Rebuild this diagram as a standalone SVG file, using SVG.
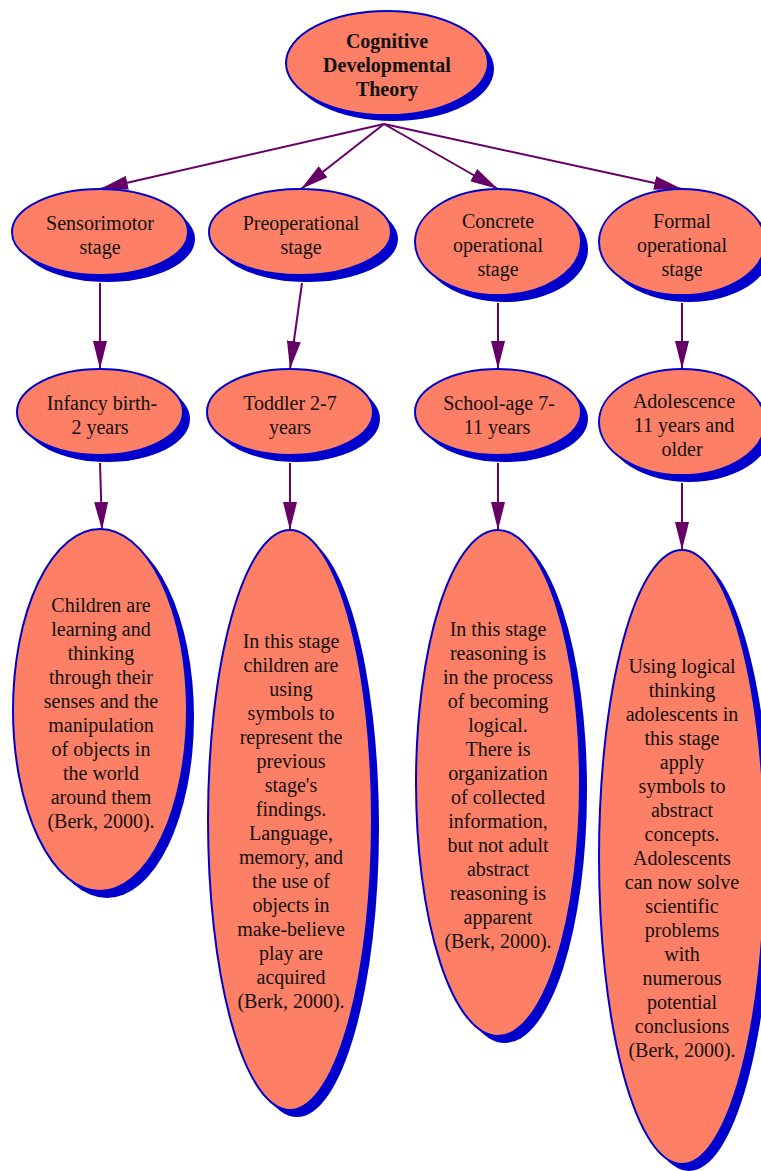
<svg xmlns="http://www.w3.org/2000/svg" width="761" height="1171" viewBox="0 0 761 1171">
<style>
.sh{fill:#0000cc;}
.nd{fill:#fc7f66;stroke:#0000cc;stroke-width:2;}
.t{font-family:"Liberation Serif","Times New Roman",serif;font-size:20px;fill:#111;text-anchor:middle;}
.b{font-weight:bold;}
.e{stroke:#660066;stroke-width:2;fill:none;marker-end:url(#ah);}
</style>
<defs>
<marker id="ah" markerUnits="userSpaceOnUse" markerWidth="28" markerHeight="14" refX="28" refY="7" orient="auto">
<path d="M0,0 L28,7 L0,14 z" fill="#660066"/>
</marker>
</defs>
<rect width="761" height="1171" fill="#fff"/>
<g id="connectors">
<line class="e" x1="384" y1="124" x2="100" y2="189"/>
<line class="e" x1="384" y1="124" x2="301" y2="189"/>
<line class="e" x1="384" y1="124" x2="498" y2="189"/>
<line class="e" x1="384" y1="124" x2="682" y2="189"/>
<line class="e" x1="100" y1="283" x2="100" y2="369"/>
<line class="e" x1="302" y1="283" x2="290" y2="369"/>
<line class="e" x1="498" y1="303" x2="498" y2="369"/>
<line class="e" x1="682" y1="303" x2="682" y2="369"/>
<line class="e" x1="100" y1="463" x2="102" y2="530"/>
<line class="e" x1="290" y1="463" x2="290" y2="530"/>
<line class="e" x1="498" y1="463" x2="498" y2="530"/>
<line class="e" x1="682" y1="483" x2="682" y2="550"/>
</g>
<g id="n-root">
<ellipse class="sh" cx="393" cy="69" rx="101" ry="52"/>
<ellipse class="nd" cx="387" cy="63" rx="101" ry="52"/>
<text class="t b" x="387" y="48">Cognitive</text>
<text class="t b" x="387" y="72">Developmental</text>
<text class="t b" x="387" y="96">Theory</text>
</g>
<g id="n-sensorimotor">
<ellipse class="sh" cx="107" cy="239" rx="88" ry="43"/>
<ellipse class="nd" cx="100" cy="232" rx="88" ry="43"/>
<text class="t" x="100" y="230">Sensorimotor</text>
<text class="t" x="100" y="254">stage</text>
</g>
<g id="n-preoperational">
<ellipse class="sh" cx="307" cy="239" rx="91" ry="43"/>
<ellipse class="nd" cx="300" cy="232" rx="91" ry="43"/>
<text class="t" x="301" y="230">Preoperational</text>
<text class="t" x="301" y="254">stage</text>
</g>
<g id="n-concrete">
<ellipse class="sh" cx="505" cy="249" rx="83" ry="53"/>
<ellipse class="nd" cx="498" cy="242" rx="83" ry="53"/>
<text class="t" x="498" y="228">Concrete</text>
<text class="t" x="498" y="252">operational</text>
<text class="t" x="498" y="276">stage</text>
</g>
<g id="n-formal">
<ellipse class="sh" cx="689" cy="249" rx="83" ry="53"/>
<ellipse class="nd" cx="682" cy="242" rx="83" ry="53"/>
<text class="t" x="682" y="228">Formal</text>
<text class="t" x="682" y="252">operational</text>
<text class="t" x="682" y="276">stage</text>
</g>
<g id="n-infancy">
<ellipse class="sh" cx="107" cy="419" rx="83" ry="43"/>
<ellipse class="nd" cx="100" cy="412" rx="83" ry="43"/>
<text class="t" x="102" y="410">Infancy birth-</text>
<text class="t" x="100" y="434">2 years</text>
</g>
<g id="n-toddler">
<ellipse class="sh" cx="297" cy="419" rx="83" ry="43"/>
<ellipse class="nd" cx="290" cy="412" rx="83" ry="43"/>
<text class="t" x="290" y="410">Toddler 2-7</text>
<text class="t" x="290" y="434">years</text>
</g>
<g id="n-schoolage">
<ellipse class="sh" cx="505" cy="419" rx="83" ry="43"/>
<ellipse class="nd" cx="498" cy="412" rx="83" ry="43"/>
<text class="t" x="499" y="410">School-age 7-</text>
<text class="t" x="497" y="434">11 years</text>
</g>
<g id="n-adolescence">
<ellipse class="sh" cx="689" cy="429" rx="83" ry="53"/>
<ellipse class="nd" cx="682" cy="422" rx="83" ry="53"/>
<text class="t" x="684" y="408">Adolescence</text>
<text class="t" x="684" y="432">11 years and</text>
<text class="t" x="682" y="456">older</text>
</g>
<g id="n-sensorimotor-desc">
<ellipse class="sh" cx="107" cy="717" rx="87" ry="181"/>
<ellipse class="nd" cx="100" cy="710" rx="87" ry="181"/>
<text class="t" x="101" y="612">Children are</text>
<text class="t" x="101" y="636">learning and</text>
<text class="t" x="101" y="660">thinking</text>
<text class="t" x="101" y="684">through their</text>
<text class="t" x="101" y="708">senses and the</text>
<text class="t" x="101" y="732">manipulation</text>
<text class="t" x="101" y="756">of objects in</text>
<text class="t" x="101" y="780">the world</text>
<text class="t" x="101" y="804">around them</text>
<text class="t" x="101" y="828">(Berk, 2000).</text>
</g>
<g id="n-preoperational-desc">
<ellipse class="sh" cx="297" cy="827" rx="82" ry="290"/>
<ellipse class="nd" cx="290" cy="820" rx="82" ry="290"/>
<text class="t" x="291" y="648">In this stage</text>
<text class="t" x="291" y="672">children are</text>
<text class="t" x="291" y="696">using</text>
<text class="t" x="291" y="720">symbols to</text>
<text class="t" x="291" y="744">represent the</text>
<text class="t" x="291" y="768">previous</text>
<text class="t" x="291" y="792">stage's</text>
<text class="t" x="291" y="816">findings.</text>
<text class="t" x="291" y="840">Language,</text>
<text class="t" x="291" y="864">memory, and</text>
<text class="t" x="291" y="888">the use of</text>
<text class="t" x="291" y="912">objects in</text>
<text class="t" x="291" y="936">make-believe</text>
<text class="t" x="291" y="960">play are</text>
<text class="t" x="291" y="984">acquired</text>
<text class="t" x="291" y="1008">(Berk, 2000).</text>
</g>
<g id="n-concrete-desc">
<ellipse class="sh" cx="505" cy="790" rx="82" ry="253"/>
<ellipse class="nd" cx="498" cy="783" rx="82" ry="253"/>
<text class="t" x="498" y="636">In this stage</text>
<text class="t" x="498" y="660">reasoning is</text>
<text class="t" x="498" y="684">in the process</text>
<text class="t" x="498" y="708">of becoming</text>
<text class="t" x="498" y="732">logical.</text>
<text class="t" x="498" y="756">There is</text>
<text class="t" x="498" y="780">organization</text>
<text class="t" x="498" y="804">of collected</text>
<text class="t" x="498" y="828">information,</text>
<text class="t" x="498" y="852">but not adult</text>
<text class="t" x="498" y="876">abstract</text>
<text class="t" x="498" y="900">reasoning is</text>
<text class="t" x="498" y="924">apparent</text>
<text class="t" x="498" y="948">(Berk, 2000).</text>
</g>
<g id="n-formal-desc">
<ellipse class="sh" cx="689" cy="864" rx="83" ry="307"/>
<ellipse class="nd" cx="682" cy="857" rx="83" ry="307"/>
<text class="t" x="682" y="673">Using logical</text>
<text class="t" x="682" y="697">thinking</text>
<text class="t" x="682" y="721">adolescents in</text>
<text class="t" x="682" y="745">this stage</text>
<text class="t" x="682" y="769">apply</text>
<text class="t" x="682" y="793">symbols to</text>
<text class="t" x="682" y="817">abstract</text>
<text class="t" x="682" y="841">concepts.</text>
<text class="t" x="682" y="865">Adolescents</text>
<text class="t" x="682" y="889">can now solve</text>
<text class="t" x="682" y="913">scientific</text>
<text class="t" x="682" y="937">problems</text>
<text class="t" x="682" y="961">with</text>
<text class="t" x="682" y="985">numerous</text>
<text class="t" x="682" y="1009">potential</text>
<text class="t" x="682" y="1033">conclusions</text>
<text class="t" x="682" y="1057">(Berk, 2000).</text>
</g>
</svg>
